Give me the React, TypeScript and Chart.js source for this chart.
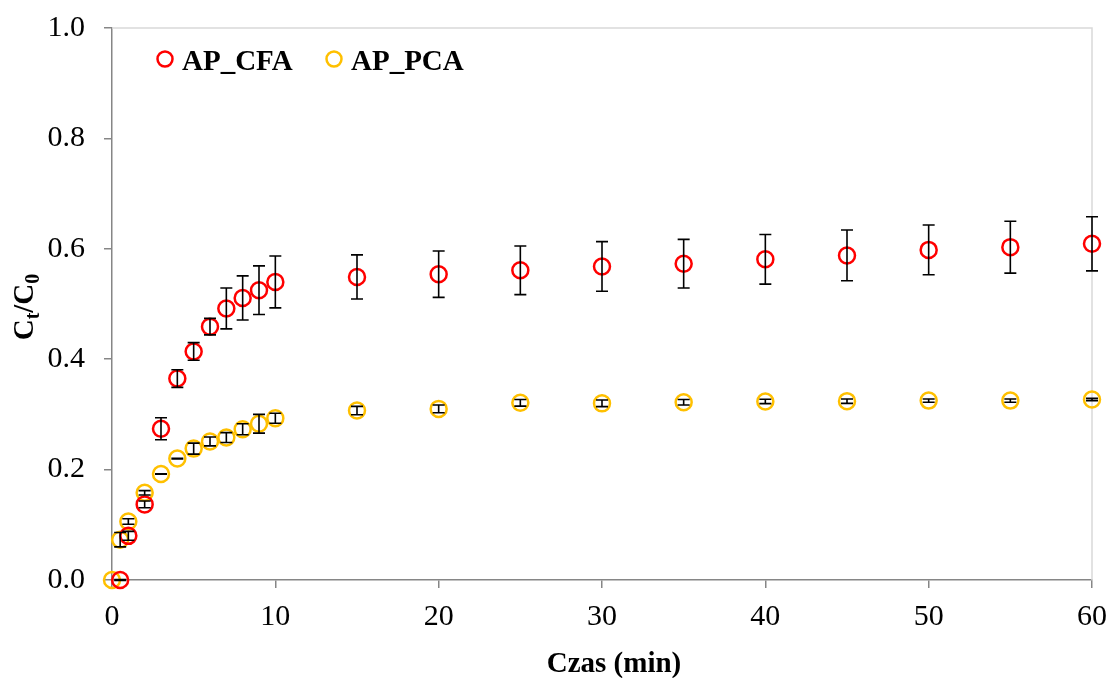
import React, { useEffect, useRef } from "react";
import { Chart, registerables } from "chart.js";
Chart.register(...registerables);

const seriesNames = ["AP_CFA", "AP_PCA"];
const cfaTime = [0.5, 1, 2, 3, 4, 5, 6, 7, 8, 9, 10, 15, 20, 25, 30, 35, 40, 45, 50, 55, 60];
const cfaValues = [0, 0.08, 0.137, 0.274, 0.365, 0.414, 0.459, 0.492, 0.511, 0.525, 0.54, 0.549, 0.554, 0.561, 0.568, 0.573, 0.581, 0.588, 0.598, 0.603, 0.609];
const cfaErrors = [0.001, 0.008, 0.006, 0.02, 0.016, 0.016, 0.015, 0.037, 0.04, 0.044, 0.047, 0.04, 0.042, 0.044, 0.045, 0.044, 0.045, 0.046, 0.045, 0.047, 0.049];
const pcaTime = [0, 0.5, 1, 2, 3, 4, 5, 6, 7, 8, 9, 10, 15, 20, 25, 30, 35, 40, 45, 50, 55, 60];
const pcaValues = [0, 0.073, 0.106, 0.158, 0.192, 0.22, 0.238, 0.251, 0.258, 0.273, 0.283, 0.293, 0.307, 0.31, 0.321, 0.32, 0.322, 0.3235, 0.324, 0.325, 0.325, 0.327];
const pcaErrors = [0, 0.013, 0.005, 0.004, 0.0005, 0.0005, 0.01, 0.008, 0.009, 0.01, 0.017, 0.009, 0.0075, 0.007, 0.006, 0.006, 0.005, 0.004, 0.004, 0.003, 0.003, 0.002];
const xTitle = "Czas (min)";

const SERIF = "'Liberation Serif', 'Times New Roman', serif";
const COLORS = ["#FF0000", "#FFC000"];
const errorSets = [cfaErrors, pcaErrors];

const errorBarPlugin = {
  id: "errorBars",
  afterDatasetsDraw(chart: any) {
    const ctx = chart.ctx;
    const y = chart.scales.y;
    ctx.save();
    ctx.strokeStyle = "#000";
    ctx.lineWidth = 1.6;
    chart.data.datasets.forEach((ds: any, i: number) => {
      const meta = chart.getDatasetMeta(i);
      const errs = errorSets[i];
      meta.data.forEach((pt: any, j: number) => {
        const e = errs[j];
        if (e === undefined || e <= 0) return;
        const v = ds.data[j].y;
        const yTop = y.getPixelForValue(v + e);
        const yBot = y.getPixelForValue(v - e);
        const px = pt.x;
        ctx.beginPath();
        ctx.moveTo(px, yTop);
        ctx.lineTo(px, yBot);
        ctx.moveTo(px - 6, yTop);
        ctx.lineTo(px + 6, yTop);
        ctx.moveTo(px - 6, yBot);
        ctx.lineTo(px + 6, yBot);
        ctx.stroke();
      });
    });
    ctx.restore();
  },
};

const decorPlugin = {
  id: "decor",
  beforeDatasetsDraw(chart: any) {
    const ctx = chart.ctx;
    const a = chart.chartArea;
    ctx.save();
    ctx.strokeStyle = "#D9D9D9";
    ctx.lineWidth = 1.5;
    ctx.beginPath();
    ctx.moveTo(a.left, a.top);
    ctx.lineTo(a.right, a.top);
    ctx.lineTo(a.right, a.bottom);
    ctx.stroke();
    ctx.restore();
  },
  afterDraw(chart: any) {
    const ctx = chart.ctx;
    const a = chart.chartArea;
    ctx.save();
    // legend
    ctx.textBaseline = "alphabetic";
    ctx.textAlign = "left";
    ctx.font = `bold 29px ${SERIF}`;
    const legendX = [165, 334];
    seriesNames.forEach((name, i) => {
      ctx.beginPath();
      ctx.strokeStyle = COLORS[i];
      ctx.lineWidth = 2.5;
      ctx.arc(legendX[i], 59, 7.5, 0, Math.PI * 2);
      ctx.stroke();
      ctx.fillStyle = "#000";
      ctx.fillText(name, legendX[i] + 17, 69.5);
    });
    // x title
    ctx.font = `bold 29px ${SERIF}`;
    ctx.textAlign = "center";
    ctx.fillText(xTitle, (a.left + a.right) / 2 + 12, 672);
    // y title with subscripts
    ctx.translate(33, (a.top + a.bottom) / 2 + 3);
    ctx.rotate(-Math.PI / 2);
    const parts: [string, boolean][] = [["C", false], ["t", true], ["/C", false], ["0", true]];
    const big = `bold 29px ${SERIF}`;
    const small = `bold 20px ${SERIF}`;
    let total = 0;
    parts.forEach(([t, sub]) => {
      ctx.font = sub ? small : big;
      total += ctx.measureText(t).width;
    });
    let cx = -total / 2;
    ctx.textAlign = "left";
    parts.forEach(([t, sub]) => {
      ctx.font = sub ? small : big;
      ctx.fillText(t, cx, sub ? 6 : 0);
      cx += ctx.measureText(t).width;
    });
    ctx.restore();
  },
};

export default function App() {
  const ref = useRef<HTMLCanvasElement | null>(null);
  useEffect(() => {
    document.body.style.margin = "0";
    const canvas = ref.current;
    if (!canvas) return;
    const mk = (xs: number[], ys: number[]) => xs.map((x, i) => ({ x, y: ys[i] }));
    const chart = new Chart(canvas, {
      type: "scatter",
      data: {
        datasets: [
          {
            label: seriesNames[0],
            data: mk(cfaTime, cfaValues),
            borderColor: COLORS[0],
            backgroundColor: "rgba(0,0,0,0)",
            pointRadius: 8,
            pointBorderWidth: 2.5,
            pointStyle: "circle",
            clip: false,
          },
          {
            label: seriesNames[1],
            data: mk(pcaTime, pcaValues),
            borderColor: COLORS[1],
            backgroundColor: "rgba(0,0,0,0)",
            pointRadius: 8,
            pointBorderWidth: 2.5,
            pointStyle: "circle",
            clip: false,
          },
        ],
      },
      options: {
        responsive: false,
        animation: false,
        events: [],
        layout: { padding: { top: 28, right: 19, left: 0, bottom: 0 } },
        plugins: { legend: { display: false }, tooltip: { enabled: false } },
        scales: {
          x: {
            type: "linear",
            min: 0,
            max: 60,
            ticks: {
              stepSize: 10,
              color: "#000",
              font: { family: SERIF, size: 30 },
              padding: 11,
            },
            grid: { drawOnChartArea: false, drawTicks: true, tickLength: 8, color: "#868686", lineWidth: 1.5 },
            border: { color: "#868686", width: 1.5 },
            afterFit: (s: any) => {
              s.height = 98;
              s.paddingLeft = 0;
              s.paddingRight = 0;
            },
          },
          y: {
            type: "linear",
            min: 0,
            max: 1,
            ticks: {
              stepSize: 0.2,
              color: "#000",
              font: { family: SERIF, size: 30 },
              padding: 19,
              callback: (v: any) => Number(v).toFixed(1),
            },
            grid: { drawOnChartArea: false, drawTicks: true, tickLength: 8, color: "#868686", lineWidth: 1.5 },
            border: { color: "#868686", width: 1.5 },
            afterFit: (s: any) => {
              s.width = 112;
              s.paddingTop = 0;
              s.paddingBottom = 0;
            },
          },
        },
      },
      plugins: [decorPlugin, errorBarPlugin],
    } as any);
    return () => chart.destroy();
  }, []);
  return <canvas ref={ref} width={1111} height={678} style={{ display: "block" }} />;
}
